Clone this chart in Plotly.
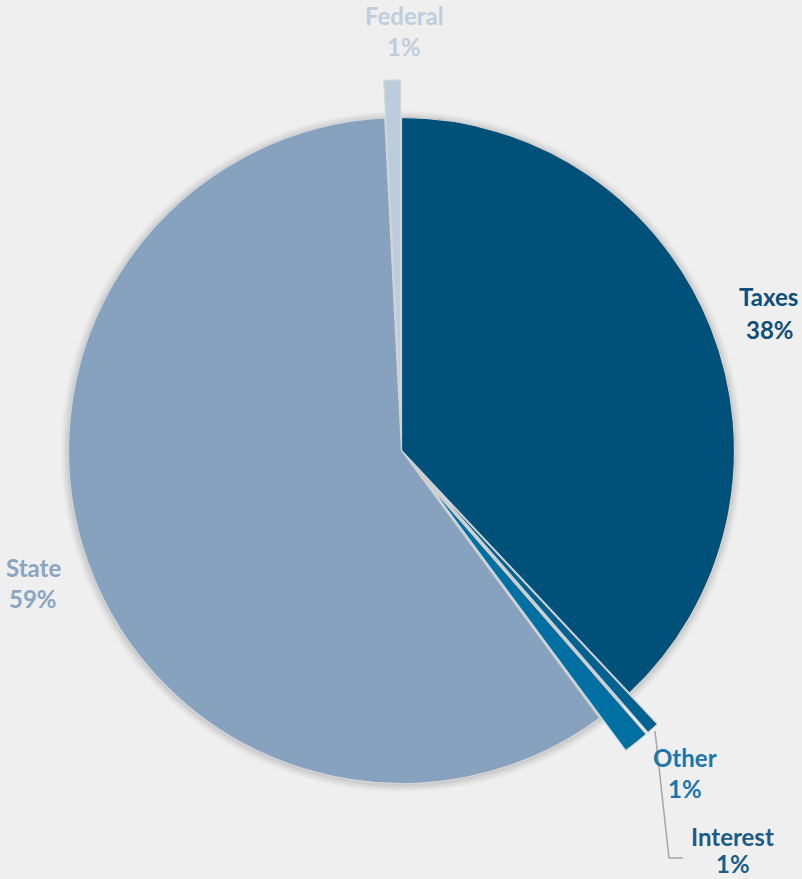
import plotly.graph_objects as go

# ---- data ----
labels = ["Taxes", "Interest", "Other", "State", "Federal"]
values = [38.0, 0.6, 1.25, 59.35, 0.8]
pulls = [0, 0.125, 0.125, 0, 0.113]
slice_colors = ["#00517A", "#03628F", "#0070A3", "#87A2BF", "#BDCCDC"]
label_colors = ["#0F4E77", "#1A5C86", "#1E75AA", "#8AA5C2", "#BFCEDD"]

W, H = 802, 879
total = sum(values)
pcts = [f"{round(v / total * 100)}%" for v in values]

# label anchor positions (pixel centers: name line, percent line)
label_pos = {
    "Taxes": ((768, 297), (770, 329)),
    "Interest": ((732, 836), (733, 863)),
    "Other": ((685, 757), (685, 788)),
    "State": ((33, 567), (33, 598)),
    "Federal": ((404, 16), (404, 47)),
}

cx, cy, R = 401.5, 450.5, 333.0
maxpull = max(pulls)
half = R * (1 + maxpull)

def px(x):
    return x / W

def py(y):
    return 1 - y / H

fig = go.Figure()
fig.add_trace(go.Pie(
    labels=labels,
    values=values,
    pull=pulls,
    sort=False,
    direction="clockwise",
    rotation=0,
    marker=dict(colors=slice_colors, line=dict(color="#D4D4D6", width=1.2)),
    textinfo="none",
    hoverinfo="label+percent",
    showlegend=False,
    domain=dict(x=[px(cx - half), px(cx + half)], y=[py(cy + half), py(cy - half)]),
))

# faint shadow halo
shapes = []
for dr, op in [(8, 0.02), (6, 0.03), (4, 0.04), (2, 0.05)]:
    shapes.append(dict(
        type="circle", xref="paper", yref="paper", layer="below",
        x0=px(cx - R - dr), x1=px(cx + R + dr),
        y0=py(cy + R + dr + 1), y1=py(cy - R - dr + 1),
        fillcolor=f"rgba(0,0,0,{op})", line=dict(width=0),
    ))

# leader line for Interest
shapes.append(dict(
    type="path", xref="paper", yref="paper",
    path=f"M {px(655)},{py(731)} L {px(669)},{py(858)} L {px(683)},{py(858)}",
    line=dict(color="#A6A6A6", width=1.5),
))

annotations = []
for lab, col, pct in zip(labels, label_colors, pcts):
    (nx, ny), (qx, qy) = label_pos[lab]
    for txt, (x, y) in ((lab, (nx, ny)), (pct, (qx, qy))):
        annotations.append(dict(
            x=px(x), y=py(y), xref="paper", yref="paper",
            text=f"<b>{txt}</b>", showarrow=False,
            xanchor="center", yanchor="middle",
            font=dict(family="Lato", size=24, color=col),
        ))

fig.update_layout(
    width=W, height=H,
    margin=dict(l=0, r=0, t=0, b=0),
    paper_bgcolor="#EFEFF0",
    plot_bgcolor="#EFEFF0",
    shapes=shapes,
    annotations=annotations,
)

fig.write_html(
    "out.html",
    config={"displayModeBar": False},
    post_script="document.body.style.margin='0';document.body.style.padding='0';document.body.style.overflow='hidden';",
)
